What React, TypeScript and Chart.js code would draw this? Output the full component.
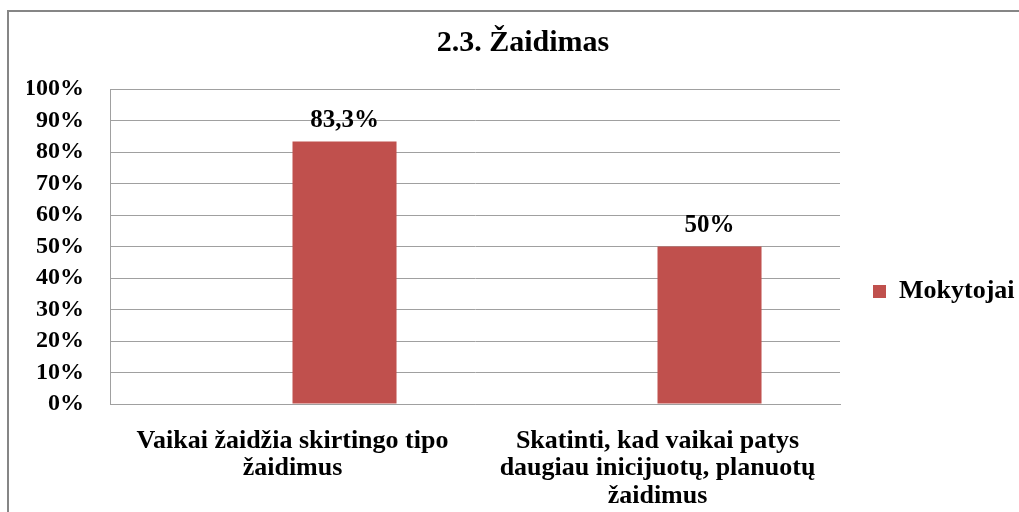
import React, { useEffect, useRef } from 'react';
import { Chart, registerables } from 'chart.js';

Chart.register(...registerables);

const chartTitle = '2.3. Žaidimas';
const categories: string[][] = [
  ['Vaikai žaidžia skirtingo tipo', 'žaidimus'],
  ['Skatinti, kad vaikai patys', 'daugiau inicijuotų, planuotų', 'žaidimus'],
];
const seriesName = 'Mokytojai';
const mokytojai = [83.3, 50];
const emptySeries: (number | null)[] = [null, null];
const yMin = 0;
const yMax = 100;
const yStep = 10;

const SERIF = "'Liberation Serif', 'Times New Roman', serif";
const BAR_COLOR = '#C0504D';
const GRID_COLOR = '#A0A0A0';

const framePlugin = {
  id: 'frame',
  beforeDraw(chart: any) {
    const ctx = chart.ctx;
    ctx.save();
    ctx.fillStyle = '#ffffff';
    ctx.fillRect(0, 0, chart.width, chart.height);
    ctx.strokeStyle = '#868686';
    ctx.lineWidth = 2;
    ctx.beginPath();
    ctx.moveTo(8, chart.height);
    ctx.lineTo(8, 11);
    ctx.lineTo(chart.width, 11);
    ctx.stroke();
    ctx.restore();
  },
};

const valueLabelPlugin = {
  id: 'valueLabels',
  afterDatasetsDraw(chart: any) {
    const ctx = chart.ctx;
    chart.data.datasets.forEach((ds: any, di: number) => {
      const meta = chart.getDatasetMeta(di);
      meta.data.forEach((el: any, i: number) => {
        const v = ds.data[i];
        if (v == null) return;
        ctx.save();
        ctx.font = `bold 25px ${SERIF}`;
        ctx.fillStyle = '#000000';
        ctx.textAlign = 'center';
        ctx.textBaseline = 'alphabetic';
        ctx.fillText(String(v).replace('.', ',') + '%', el.x, el.y - 15);
        ctx.restore();
      });
    });
  },
};

export default function App() {
  const canvasRef = useRef<HTMLCanvasElement | null>(null);

  useEffect(() => {
    if (!canvasRef.current) return;
    const chart = new Chart(canvasRef.current, {
      type: 'bar',
      data: {
        labels: categories,
        datasets: [
          {
            label: '',
            data: emptySeries,
            backgroundColor: BAR_COLOR,
            borderWidth: 0,
          },
          {
            label: seriesName,
            data: mokytojai,
            backgroundColor: BAR_COLOR,
            borderWidth: 0,
          },
        ],
      },
      options: {
        responsive: false,
        animation: false,
        devicePixelRatio: 1,
        layout: { padding: { left: 27, right: 0, top: 0, bottom: 0 } },
        datasets: {
          bar: { categoryPercentage: 0.57, barPercentage: 1 },
        },
        scales: {
          x: {
            grid: { display: false, drawTicks: false },
            border: { display: true, color: GRID_COLOR, width: 1 },
            ticks: {
              color: '#000000',
              padding: 23,
              maxRotation: 0,
              autoSkip: false,
              font: { family: SERIF, size: 26, weight: 'bold', lineHeight: 1.07 },
            },
            afterFit(scale: any) {
              scale.height = 108;
            },
          },
          y: {
            min: yMin,
            max: yMax,
            grid: { color: GRID_COLOR, lineWidth: 1, drawTicks: false },
            border: { display: true, color: GRID_COLOR, width: 1 },
            ticks: {
              stepSize: yStep,
              autoSkip: false,
              color: '#000000',
              padding: 26,
              font: { family: SERIF, size: 24, weight: 'bold' },
              callback: (v: any) => `${v}%`,
            },
            afterFit(scale: any) {
              scale.width = 83;
            },
          },
        },
        plugins: {
          title: {
            display: true,
            text: chartTitle,
            color: '#000000',
            font: { family: SERIF, size: 30, weight: 'bold', lineHeight: 1.2 },
            padding: { top: 25, bottom: 28 },
          },
          legend: {
            display: true,
            position: 'right',
            maxWidth: 179,
            title: {
              display: true,
              text: ' ',
              font: { size: 10, lineHeight: 1.2 },
              padding: { top: 0, bottom: 59 },
            },
            labels: {
              color: '#000000',
              boxWidth: 13,
              boxHeight: 13,
              padding: 33,
              font: { family: SERIF, size: 26, weight: 'bold' },
              filter: (item: any) => item.text !== '',
            },
          },
          tooltip: { enabled: false },
        },
      },
      plugins: [framePlugin, valueLabelPlugin],
    } as any);
    return () => chart.destroy();
  }, []);

  return (
    <div style={{ position: 'absolute', left: 0, top: 0, width: 1019, height: 512 }}>
      <canvas ref={canvasRef} width={1019} height={512} style={{ width: 1019, height: 512, display: 'block' }} />
    </div>
  );
}
